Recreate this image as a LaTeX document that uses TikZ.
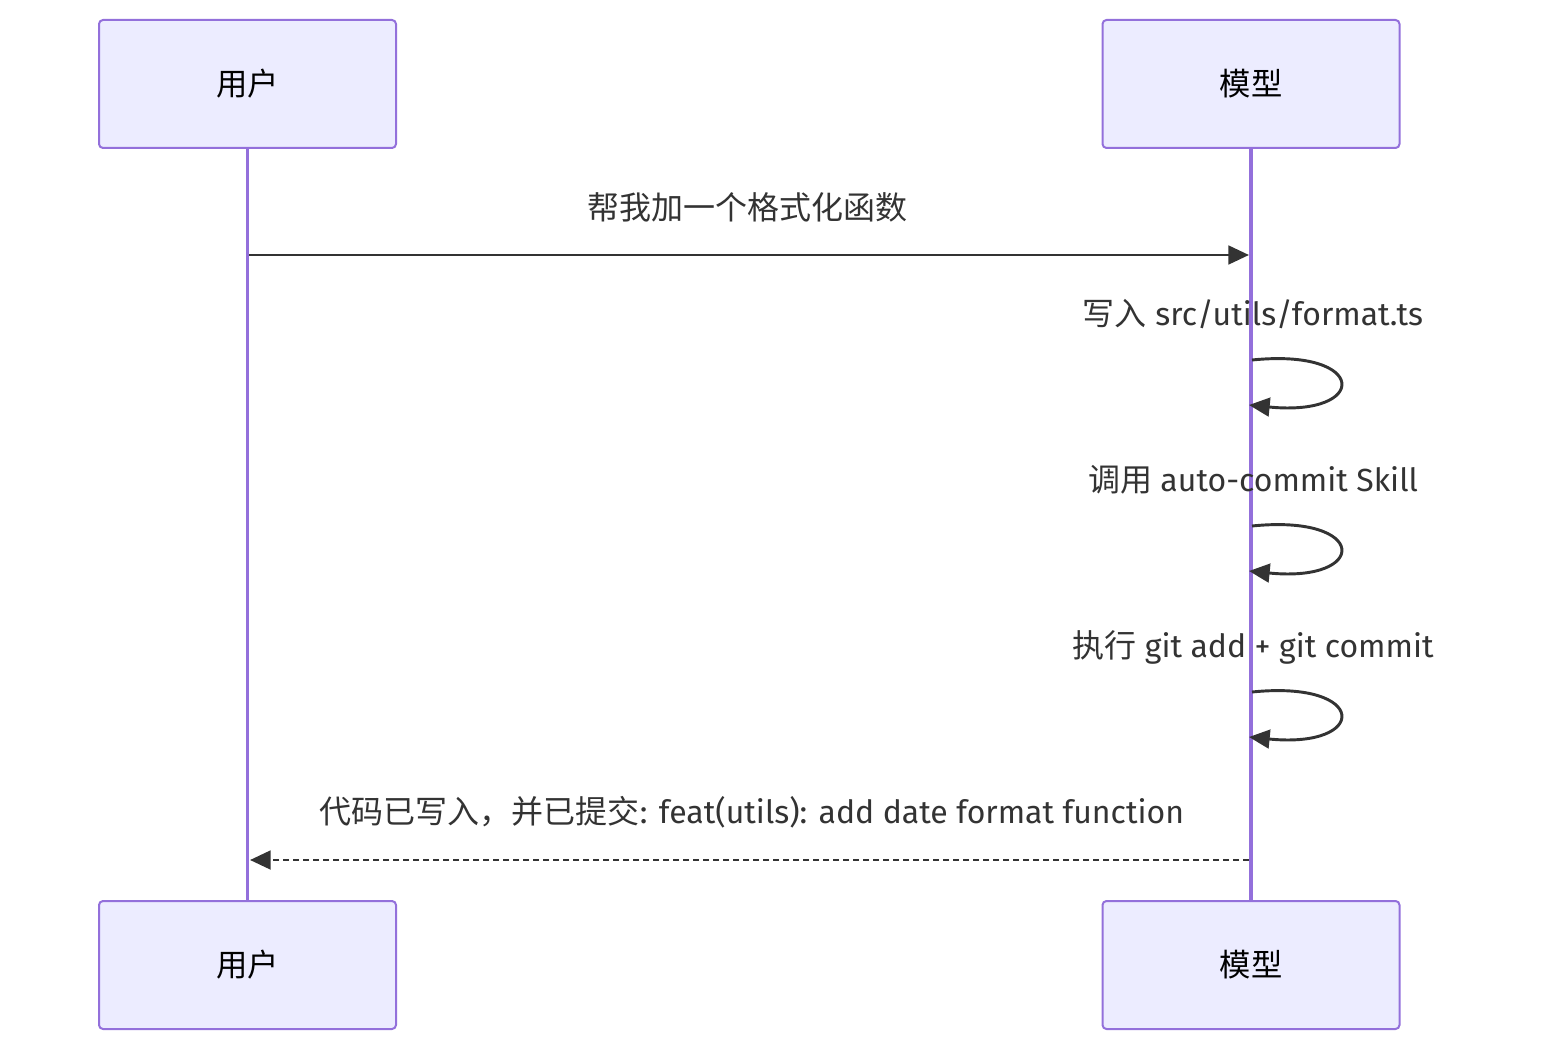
\documentclass[tikz,border=0pt]{standalone}
\usepackage{fontspec}
\setmainfont{Fira Sans}
\newfontfamily\cjk{Noto Sans CJK SC}
\usetikzlibrary{arrows.meta}
\definecolor{actfill}{HTML}{ECECFF}
\definecolor{actline}{HTML}{9370DB}
\definecolor{msg}{HTML}{333333}
\tikzset{
  actor/.style={draw=actline, fill=actfill, line width=1.5pt, rounded corners=3pt,
    minimum width=222.75pt, minimum height=96pt, inner sep=0pt, font=\fontsize{23.5}{27}\selectfont\cjk, text=black},
  life/.style={draw=actline, line width=2.4pt},
  msgline/.style={draw=msg, line width=2.2pt, -{Triangle[length=15.5pt,width=14pt]}},
  dashmsg/.style={msgline, dash pattern=on 4.5pt off 3pt},
  lbl/.style={text=msg, font=\fontsize{24}{28}\selectfont, inner sep=0pt},
}
\begin{document}
\begin{tikzpicture}[x=0.75pt,y=-0.75pt]
\useasboundingbox (0,0) rectangle (1556,1062);
\node[actor] (ut) at (247.5,84) {用户};
\node[actor] (mt) at (1251,84) {模型};
\node[actor] (ub) at (247.5,965) {用户};
\node[actor] (mb) at (1251,965) {模型};
\draw[life] (ut.south) -- (ub.north);
\draw[life] (mt.south) -- (mb.north);
% message 1
\coordinate (m1s) at (249,255);
\coordinate (m1e) at (1249,255);
\draw[msgline] (m1s) -- (m1e);
\node[lbl] (l1) at (747,207) {\cjk 帮我加一个格式化函数};
% self loops
\coordinate (a1) at (1252,360); \coordinate (b1) at (1249,405);
\draw[msgline] (a1) .. controls (1369,348) and (1369,417) .. (b1);
\node[lbl] (l2) at (1253,314) {{\cjk 写入} src/utils/format.ts};
\coordinate (a2) at (1252,526); \coordinate (b2) at (1249,571);
\draw[msgline] (a2) .. controls (1369,514) and (1369,583) .. (b2);
\node[lbl] (l3) at (1253,480) {{\cjk 调用} auto-commit Skill};
\coordinate (a3) at (1252,692); \coordinate (b3) at (1249,737);
\draw[msgline] (a3) .. controls (1369,680) and (1369,749) .. (b3);
\node[lbl] (l4) at (1253,647) {{\cjk 执行} git add + git commit};
% return
\coordinate (r1s) at (1249,860);
\coordinate (r1e) at (250,860);
\draw[dashmsg] (r1s) -- (r1e);
\node[lbl] (l5) at (752,812) {{\cjk 代码已写入，并已提交}: feat(utils): add date format function};
\end{tikzpicture}
\end{document}
